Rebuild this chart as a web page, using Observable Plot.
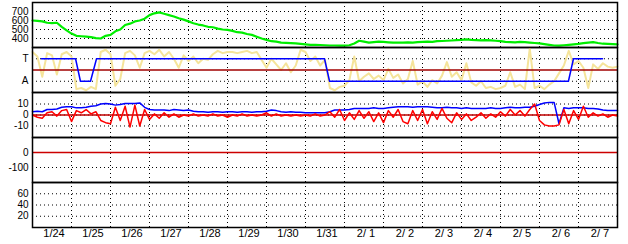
<!DOCTYPE html>
<html><head><meta charset="utf-8">
<script src="https://cdn.jsdelivr.net/npm/d3@7"></script>
<script src="https://cdn.jsdelivr.net/npm/@observablehq/plot@0.6"></script>
<style>
body{margin:0;background:#fff;}
#chart{position:relative;width:628px;height:244px;overflow:hidden;background:#fff;}
#chart svg{position:absolute;left:0;}
</style></head><body><div id="chart"></div>
<script>
// ---- data ----
const dayLabels = ["1/24","1/25","1/26","1/27","1/28","1/29","1/30","1/31","2/ 1","2/ 2","2/ 3","2/ 4","2/ 5","2/ 6","2/ 7"];
const startUTC = Date.UTC(2006, 0, 24);
const stepHours = 3; // sampling interval of the series below

const green = [600,595,590,575,570,575,530,490,455,430,
425,420,415,405,400,430,440,480,500,550,
565,590,600,620,660,680,690,675,660,645,
625,610,590,570,555,545,530,525,510,500,
495,485,470,465,450,440,420,400,385,370,
365,355,352,348,345,340,335,330,330,328,
325,322,322,320,320,325,345,375,365,355,
360,365,362,358,355,355,355,358,355,360,
362,365,362,370,372,375,378,382,385,390,
385,382,380,382,380,375,370,362,360,358,
362,360,355,350,345,338,330,322,320,325,
330,335,340,348,355,360,350,342,340,338,
335];

const yellow = [1.6,1.2,-0.6,1.5,1.3,-0.4,1.4,1.6,1.2,-1.7,
-1.6,-1.8,-1.5,-1.7,1.6,1.8,1.4,-1.4,-0.8,1.5,
1.7,1.3,0.2,1.5,1.7,1.4,1.8,1.2,1.6,1.0,
0.2,1.3,0.8,1.2,0.6,1.0,0.9,1.4,1.7,1.5,
1.6,1.6,1.5,1.6,1.7,1.5,1.6,0.9,0.2,1.0,
0.5,0.0,0.6,-0.2,0.4,1.8,1.6,0.8,1.2,0.4,
0.9,-1.6,-1.8,-1.5,-1.4,-0.9,1.2,-1.0,-0.6,-0.3,
-0.8,-0.5,-0.9,0.1,-0.7,-0.4,-1.2,-0.8,0.8,-1.3,
-1.0,-1.5,-0.9,-1.2,-0.5,0.7,-0.6,-0.2,-0.9,0.6,
-1.1,-1.4,-1.0,-1.6,-1.5,-1.7,-1.6,-1.4,-0.2,-1.5,
-1.3,-1.7,1.9,-1.6,-1.4,-1.7,-1.3,-1.0,-0.3,0.4,
1.7,0.5,0.8,0.2,-1.6,0.5,0.1,0.6,0.3,0.2,
0.3];

// mode step line (T = 1, A = -1)
const modeHours = [5.5, 26.5, 29.5, 35.7, 39.4, 179.7, 182.8, 329.8, 332.9, 350.8];
const modeValues = [1, 1, -1, -1, 1, 1, -1, -1, 1, 1];

const blue = [3,3.5,3,5,5,5.5,7,7.5,7.5,6.5,
6.5,7,8,8.5,10,10.5,10,9,9.5,10.5,
10.5,10.5,11,7,5,4.5,4.5,4.5,4,5,
4.5,4,4.5,3.5,3,3,2.5,3,3,2.5,
3,3,2.5,3,3,2.5,3,3,3.5,4.5,
4,3,2.5,3,2.5,2.5,2,2,2,2,
2,3,4.5,4.5,4.5,5,6,6,6,6,
6.5,6,6,6.5,7,7.5,7.5,7.5,7,7.5,
7.5,7.5,7,6.5,6.5,7,6.5,6.5,6,6.5,
6,6,6,6,6.5,6,6,6.5,7,6.5,
6.5,7,7,8,9.5,11,11.5,11.5,-8,6.5,
6,6.5,6.5,6.5,6,6,5.5,4.5,4,4,
4];

const red = [0,-2,-3,2,3,-1,4,5,-6,4,
2,5,1,3,-5,-7,-8,7,-5,8,
-11,9,-10,5,-4,1,-3,2,-2,1,
-2,0,-1,1,-1,0,-1,1,-1,0,
-2,0,-1,1,-1,0,-1,0,2,-1,
1,-1,0,-1,0,-1,0,-1,1,-1,
0,3,-2,5,-5,2,-4,4,-3,3,
-6,2,-7,4,-2,5,-6,-8,4,-5,
5,-8,3,-4,6,-3,-7,2,-4,1,
-5,-2,2,-3,1,-2,3,-1,5,0,
4,-1,5,10,-5,-9,-10,-10,-9,5,
-8,4,-4,8,-2,2,-1,1,-2,0,
-1];

const ticks1 = [400, 500, 600, 700];
const ticks2 = [1, -1];
const ticks2Labels = ["T", "A"];
const ticks3 = [10, 0, -10];
const ticks4 = [0, -100];
const ticks5 = [60, 40, 20];

// ---- build ----
const HOUR = 3600e3, DAY = 24 * HOUR;
const xDomain = [new Date(startUTC), new Date(startUTC + 15 * DAY)];
const tAt = i => new Date(startUTC + i * stepHours * HOUR);
const series = arr => arr.map((v, i) => ({t: tAt(i), v}));
const midnights = d3.range(1, 15).map(k => new Date(startUTC + k * DAY));
const modeData = modeHours.map((h, i) => ({t: new Date(startUTC + h * HOUR), v: modeValues[i]}));

const container = document.getElementById("chart");
const dots = {stroke: "black", strokeWidth: 1, strokeDasharray: "1,3"};
const plain = d => String(d);

function panel(top, yOpts, marks, extraBottom = 0) {
  const svg = Plot.plot({
    width: 628, height: 45 + extraBottom,
    marginLeft: 32, marginRight: 11, marginTop: 0, marginBottom: extraBottom,
    style: {overflow: "visible", background: "transparent", fontFamily: "'Liberation Sans', Arial, sans-serif", fontSize: "10px", color: "black"},
    x: {type: "utc", domain: xDomain, axis: null},
    y: {domain: yOpts.domain, ticks: yOpts.ticks, tickFormat: yOpts.fmt || plain, tickSize: 0, tickPadding: 4, label: null},
    marks: [
      Plot.ruleX(midnights, dots),
      Plot.ruleY(yOpts.ticks, dots),
      ...marks,
      Plot.frame({stroke: "black", strokeWidth: 1.5})
    ]
  });
  svg.style.top = top + "px";
  container.append(svg);
}

panel(2, {domain: [300, 800], ticks: ticks1}, [
  Plot.line(series(green), {x: "t", y: "v", stroke: "#00ee00", strokeWidth: 2.2})
]);

panel(47, {domain: [-2, 2], ticks: ticks2, fmt: d => ticks2Labels[ticks2.indexOf(d)]}, [
  Plot.line(series(yellow), {x: "t", y: "v", stroke: "#f5e49a", strokeWidth: 2}),
  Plot.ruleY([0], {stroke: "#a00000", strokeWidth: 1.5}),
  Plot.line(modeData, {x: "t", y: "v", stroke: "#0000ff", strokeWidth: 1.5})
]);

panel(92, {domain: [-20.5, 20.5], ticks: ticks3}, [
  Plot.ruleY([0], {stroke: "#c00000", strokeWidth: 1.5}),
  Plot.line(series(blue), {x: "t", y: "v", stroke: "#0000ff", strokeWidth: 1.5}),
  Plot.line(series(red), {x: "t", y: "v", stroke: "#ff0000", strokeWidth: 1.5})
]);

panel(137, {domain: [-200, 100], ticks: ticks4}, [
  Plot.ruleY([0], {stroke: "#cc0000", strokeWidth: 1.5})
]);

panel(182, {domain: [0, 80], ticks: ticks5}, [
  Plot.text(dayLabels, {x: (d, i) => new Date(startUTC + (i + 0.5) * DAY), text: d => d, frameAnchor: "bottom", dy: 9, dx: 2, fill: "black", fontSize: 11})
], 17);
</script></body></html>
